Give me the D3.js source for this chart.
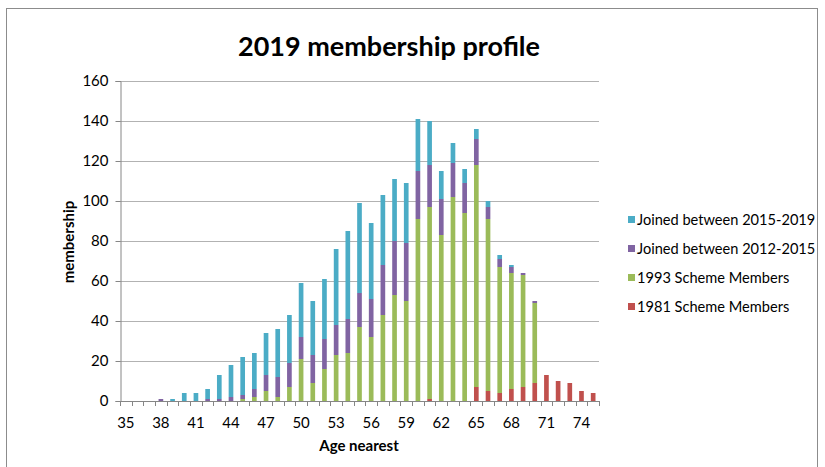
<!DOCTYPE html>
<html>
<head>
<meta charset="utf-8">
<script src="https://cdn.jsdelivr.net/npm/d3@7"></script>
<style>
  html, body { margin: 0; padding: 0; background: #fff; }
  svg { display: block; font-family: Lato, "Open Sans", sans-serif; }
</style>
</head>
<body>
<svg id="chart" width="825" height="467"></svg>
<script>
// Ages (nearest) 35..75
const ages = [35,36,37,38,39,40,41,42,43,44,45,46,47,48,49,50,51,52,53,54,55,56,57,58,59,60,61,62,63,64,65,66,67,68,69,70,71,72,73,74,75];

// Members per age, by group
const scheme1981 = [0,0,0,0,0,0,0,0,0,0,0,0,0,0,0,0,0,0,0,0,0,0,0,0,0,0,1,0,0,0,7,5,4,6,7,9,13,10,9,5,4];
const scheme1993 = [0,0,0,0,0,0,0,0,0,0,1,2,5,2,7,21,9,16,23,24,37,32,43,53,50,91,96,83,102,94,111,86,63,58,56,40,0,0,0,0,0];
const joined2012to2015 = [0,0,0,1,0,0,0,1,1,2,2,4,8,10,12,11,14,15,15,17,17,19,25,27,29,24,21,18,17,15,13,6,4,3,1,1,0,0,0,0,0];
const joined2015to2019 = [0,0,0,0,1,4,4,5,12,16,19,18,21,24,24,27,27,30,38,44,45,38,35,31,30,26,22,14,10,7,5,3,2,1,0,0,0,0,0,0,0];

const yTicks = [0,20,40,60,80,100,120,140,160];
const xLabelAges = [35,38,41,44,47,50,53,56,59,62,65,68,71,74];

const seriesKeys = ["s1981","s1993","j1215","j1519"];
const seriesNames = {
  j1519: "Joined between 2015-2019",
  j1215: "Joined between 2012-2015",
  s1993: "1993 Scheme Members",
  s1981: "1981 Scheme Members"
};
const colors = { s1981: "#c0504d", s1993: "#9bbb59", j1215: "#8064a2", j1519: "#4bacc6" };

const rows = ages.map((a, i) => ({
  age: a,
  s1981: scheme1981[i],
  s1993: scheme1993[i],
  j1215: joined2012to2015[i],
  j1519: joined2015to2019[i]
}));

const svg = d3.select("#chart");
const plot = { left: 120, right: 599, top: 81, bottom: 401 };

// outer frame
svg.append("rect")
  .attr("x", 6.5).attr("y", 8.5).attr("width", 811).attr("height", 470)
  .attr("fill", "none").attr("stroke", "#8c8c8c").attr("stroke-width", 1);

const x = d3.scaleBand().domain(ages).range([plot.left, plot.right])
  .paddingInner(0.6).paddingOuter(0.3);
const y = d3.scaleLinear().domain([0, 160]).range([plot.bottom, plot.top]);

// gridlines
svg.append("g").selectAll("line").data(yTicks.filter(t => t > 0)).join("line")
  .attr("x1", plot.left).attr("x2", plot.right)
  .attr("y1", d => Math.round(y(d)) + 0.5).attr("y2", d => Math.round(y(d)) + 0.5)
  .attr("stroke", "#b2b2b2").attr("stroke-width", 1);

// stacked bars
const stacked = d3.stack().keys(seriesKeys)(rows);
svg.append("g").selectAll("g").data(stacked).join("g")
  .attr("fill", d => colors[d.key])
  .selectAll("rect").data(d => d).join("rect")
  .attr("x", d => x(d.data.age))
  .attr("width", x.bandwidth())
  .attr("y", d => y(d[1]))
  .attr("height", d => y(d[0]) - y(d[1]));

// y axis
const yAxis = d3.axisLeft(y).tickValues(yTicks).tickSize(5).tickPadding(7);
const gy = svg.append("g").attr("transform", `translate(${plot.left + 0.5},0)`).call(yAxis);
gy.select(".domain").attr("stroke", "#868686");
gy.selectAll(".tick line").attr("stroke", "#868686");
gy.selectAll(".tick text").attr("font-size", 15).attr("fill", "#000")
  .attr("font-family", "Lato, sans-serif");

// x axis line and category boundary ticks
const step = x.step();
const gx = svg.append("g");
gx.append("line")
  .attr("x1", plot.left).attr("x2", plot.right)
  .attr("y1", plot.bottom + 0.5).attr("y2", plot.bottom + 0.5)
  .attr("stroke", "#868686");
const boundaries = ages.map(a => x(a) - (step - x.bandwidth()) / 2).concat([plot.right]);
gx.selectAll("line.tk").data(boundaries).join("line").attr("class", "tk")
  .attr("x1", d => Math.round(d) + 0.5).attr("x2", d => Math.round(d) + 0.5)
  .attr("y1", plot.bottom).attr("y2", plot.bottom + 5)
  .attr("stroke", "#868686");
gx.selectAll("text").data(xLabelAges).join("text")
  .attr("x", d => x(d) + x.bandwidth() / 2)
  .attr("y", 428)
  .attr("text-anchor", "middle")
  .attr("font-size", 15)
  .text(d => d);

// titles
svg.append("text")
  .attr("x", 389).attr("y", 56)
  .attr("text-anchor", "middle")
  .attr("font-size", 27).attr("font-weight", "bold")
  .text("2019 membership profile");

svg.append("text")
  .attr("x", 359).attr("y", 451)
  .attr("text-anchor", "middle")
  .attr("font-size", 15).attr("font-weight", "bold")
  .text("Age nearest");

svg.append("text")
  .attr("transform", "translate(74,242) rotate(-90)")
  .attr("text-anchor", "middle")
  .attr("font-size", 15).attr("font-weight", "bold")
  .text("membership");

// legend
const legendOrder = ["j1519","j1215","s1993","s1981"];
const lg = svg.append("g").selectAll("g").data(legendOrder).join("g")
  .attr("transform", (d, i) => `translate(628,${220 + i * 29})`);
lg.append("rect").attr("x", 0).attr("y", -4).attr("width", 7).attr("height", 7)
  .attr("fill", d => colors[d]);
lg.append("text").attr("x", 9).attr("y", 5)
  .attr("font-size", 14.6)
  .text(d => seriesNames[d]);
</script>
</body>
</html>
